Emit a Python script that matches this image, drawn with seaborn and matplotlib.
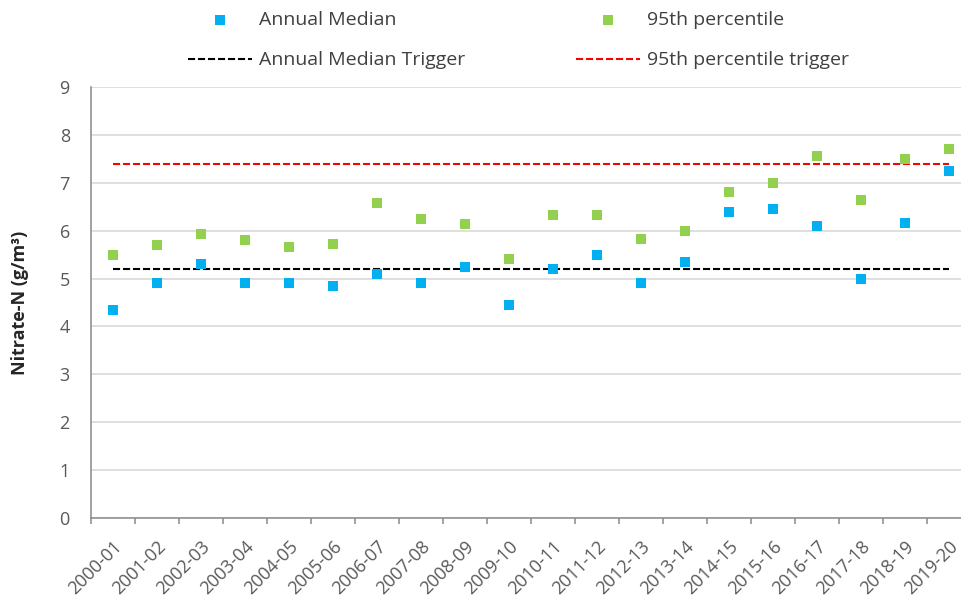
import numpy as np
import pandas as pd
import seaborn as sns
import matplotlib.pyplot as plt
from matplotlib.ticker import FixedLocator, MultipleLocator

# data
seasons = ["2000-01", "2001-02", "2002-03", "2003-04", "2004-05", "2005-06",
           "2006-07", "2007-08", "2008-09", "2009-10", "2010-11", "2011-12",
           "2012-13", "2013-14", "2014-15", "2015-16", "2016-17", "2017-18",
           "2018-19", "2019-20"]
annual_median = [4.35, 4.9, 5.3, 4.9, 4.9, 4.85, 5.1, 4.9, 5.25, 4.45,
                 5.2, 5.5, 4.9, 5.35, 6.4, 6.45, 6.1, 5.0, 6.15, 7.25]
pct95 = [5.5, 5.7, 5.93, 5.8, 5.65, 5.72, 6.58, 6.25, 6.13, 5.4,
         6.33, 6.33, 5.83, 6.0, 6.8, 7.0, 7.55, 6.65, 7.5, 7.7]
median_trigger = 5.2
pct95_trigger = 7.4

df = pd.DataFrame({"season": seasons, "median": annual_median, "p95": pct95})
df["pos"] = np.arange(len(df))
df["median_trig"] = median_trigger
df["p95_trig"] = pct95_trigger

sns.set_style("white")
plt.rcParams["font.family"] = ["Open Sans", "DejaVu Sans"]

fig = plt.figure(figsize=(9.62, 6.03), dpi=100)
ax = fig.add_axes([90.7 / 962, 1 - 518 / 603, 1 - 90.7 / 962, (518 - 87) / 603])

blue = "#00B0F0"
green = "#92D050"
dash = (0, (3.4, 1.4))

sns.lineplot(data=df, x="pos", y="median_trig", color="black", lw=1.5,
             linestyle=dash, label="Annual Median Trigger", ax=ax, zorder=2)
sns.lineplot(data=df, x="pos", y="p95_trig", color="#FF0000", lw=1.5,
             linestyle=dash, label="95th percentile trigger", ax=ax, zorder=2)
sns.scatterplot(data=df, x="pos", y="median", marker="s", color=blue, s=52,
                linewidth=0, label="Annual Median", ax=ax, zorder=3)
sns.scatterplot(data=df, x="pos", y="p95", marker="s", color=green, s=52,
                linewidth=0, label="95th percentile", ax=ax, zorder=3)

ax.set_xlim(-0.5, -0.5 + (962 - 90.7) / 44)
ax.set_ylim(0, 9)
ax.yaxis.set_major_locator(MultipleLocator(1))
ax.grid(axis="y", color="#D9D9D9", lw=1.2)
ax.set_axisbelow(True)

ax.set_xticks(df["pos"])
ax.set_xticklabels(seasons, rotation=45, ha="right", va="top",
                   rotation_mode="anchor")
ax.xaxis.set_minor_locator(FixedLocator(np.arange(-0.5, len(seasons), 1)))
ax.tick_params(axis="x", which="major", length=0, pad=14, labelsize=13,
               labelcolor="#595959")
ax.tick_params(axis="x", which="minor", bottom=True, length=4.5, width=1.1,
               color="#898989", direction="out")
ax.tick_params(axis="y", length=0, pad=15, labelsize=13, labelcolor="#595959")

for side in ["top", "right"]:
    ax.spines[side].set_visible(False)
for side in ["left", "bottom"]:
    ax.spines[side].set_color("#898989")
    ax.spines[side].set_linewidth(1.1)

ax.set_xlabel("")
ax.set_ylabel("Nitrate-N (g/m³)", fontsize=13, fontweight="bold",
              color="#262626", labelpad=22)

h, l = ax.get_legend_handles_labels()
order = [l.index(k) for k in ["Annual Median", "Annual Median Trigger",
                              "95th percentile", "95th percentile trigger"]]
ax.legend([h[i] for i in order], [l[i] for i in order], ncol=2,
          loc="upper left", bbox_to_anchor=(188 / 962, 1 - 11 / 603),
          bbox_transform=fig.transFigure, frameon=False, fontsize=14,
          labelcolor="#404040", handlelength=3.3, handletextpad=0.36,
          columnspacing=5.7, labelspacing=1.15, borderpad=0, borderaxespad=0)

fig.savefig("out.png", dpi=100)
